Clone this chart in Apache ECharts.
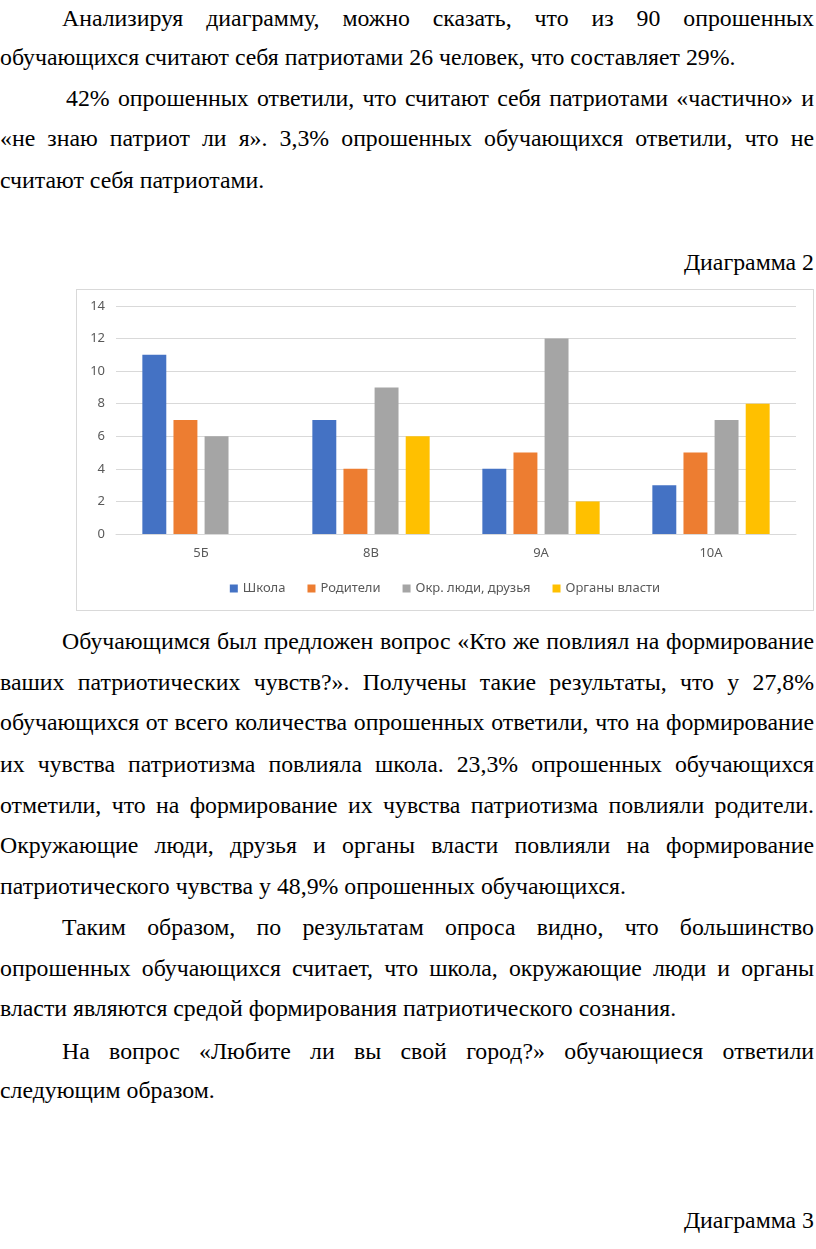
<!DOCTYPE html>
<html>
<head>
<meta charset="utf-8">
<script src="https://cdn.jsdelivr.net/npm/echarts@6/dist/echarts.min.js"></script>
<style>
  html, body { margin: 0; padding: 0; background: #fff; }
  body { width: 816px; height: 1249px; position: relative; overflow: hidden;
         font-family: "Liberation Serif", "Times New Roman", serif; font-size: 23.8px; color: #000; }
  .ln { position: absolute; left: 0; width: 814px; height: 40px; line-height: 40px;
        white-space: nowrap; }
  .j { text-align: justify; text-align-last: justify; white-space: normal; }
  .r { text-align: right; }
  #box { position: absolute; left: 76px; top: 289px; width: 736px; height: 320px;
         border: 1px solid #d9d9d9; }
  #chart { width: 100%; height: 100%; }
</style>
</head>
<body>
<div class="ln j" style="top:-2px;padding-left:62px;width:752px">Анализируя диаграмму, можно сказать, что из 90 опрошенных</div>
<div class="ln" style="top:37px">обучающихся считают себя патриотами 26 человек, что составляет 29%.</div>
<div class="ln j" style="top:78px;padding-left:66px;width:748px">42% опрошенных ответили, что считают себя патриотами «частично» и</div>
<div class="ln j" style="top:118px">«не знаю патриот ли я». 3,3% опрошенных обучающихся ответили, что не</div>
<div class="ln" style="top:160px">считают себя патриотами.</div>
<div class="ln r" style="top:242px">Диаграмма 2</div>

<div id="box"><div id="chart"></div></div>

<div class="ln j" style="top:621px;padding-left:62px;width:752px">Обучающимся был предложен вопрос «Кто же повлиял на формирование</div>
<div class="ln j" style="top:662px">ваших патриотических чувств?». Получены такие результаты, что у 27,8%</div>
<div class="ln j" style="top:702px">обучающихся от всего количества опрошенных ответили, что на формирование</div>
<div class="ln j" style="top:744px">их чувства патриотизма повлияла школа. 23,3% опрошенных обучающихся</div>
<div class="ln j" style="top:785px">отметили, что на формирование их чувства патриотизма повлияли родители.</div>
<div class="ln j" style="top:825px">Окружающие люди, друзья и органы власти повлияли на формирование</div>
<div class="ln" style="top:866px">патриотического чувства у 48,9% опрошенных обучающихся.</div>
<div class="ln j" style="top:907px;padding-left:62px;width:752px">Таким образом, по результатам опроса видно, что большинство</div>
<div class="ln j" style="top:948px">опрошенных обучающихся считает, что школа, окружающие люди и органы</div>
<div class="ln" style="top:988px">власти являются средой формирования патриотического сознания.</div>
<div class="ln j" style="top:1031px;padding-left:62px;width:752px">На вопрос «Любите ли вы свой город?» обучающиеся ответили</div>
<div class="ln" style="top:1070px">следующим образом.</div>
<div class="ln r" style="top:1200px">Диаграмма 3</div>

<script>
// Диаграмма 2: кто повлиял на формирование патриотических чувств
var classes   = ['5Б', '8В', '9А', '10А'];
var school    = [11, 7, 4, 3];
var parents   = [7, 4, 5, 5];
var friends   = [6, 9, 12, 7];
var officials = [0, 6, 2, 8];

var seriesNames  = ['Школа', 'Родители', 'Окр. люди, друзья', 'Органы власти'];
var seriesColors = ['#4472C4', '#ED7D31', '#A5A5A5', '#FFC000'];
var seriesData   = [school, parents, friends, officials];

var chart = echarts.init(document.getElementById('chart'));

var textStyle = {
    fontFamily: '"Noto Sans", "Open Sans", sans-serif',
    fontSize:   13,
    color:      '#595959'
};

chart.setOption({
    animation: false,
    color:     seriesColors,
    textStyle: textStyle,
    grid: {
        left:   39,
        right:  17,
        top:    16,
        bottom: 76
    },
    legend: {
        bottom:     10,
        left:       'center',
        icon:       'rect',
        itemWidth:  8,
        itemHeight: 8,
        itemGap:    22,
        textStyle:  textStyle,
        data:       seriesNames
    },
    xAxis: {
        type:      'category',
        data:      classes,
        axisLine:  { lineStyle: { color: '#d9d9d9' } },
        axisTick:  { show: false },
        axisLabel: { margin: 13, fontSize: 13, color: '#595959' }
    },
    yAxis: {
        type:      'value',
        min:       0,
        max:       14,
        interval:  2,
        axisLine:  { show: false },
        axisTick:  { show: false },
        axisLabel: { margin: 11, fontSize: 13, color: '#595959' },
        splitLine: { lineStyle: { color: '#d9d9d9' } }
    },
    series: seriesNames.map(function (name, i) {
        return {
            name:           name,
            type:           'bar',
            data:           seriesData[i],
            barGap:         '30%',
            barCategoryGap: '31%'
        };
    })
});
</script>
</body>
</html>
